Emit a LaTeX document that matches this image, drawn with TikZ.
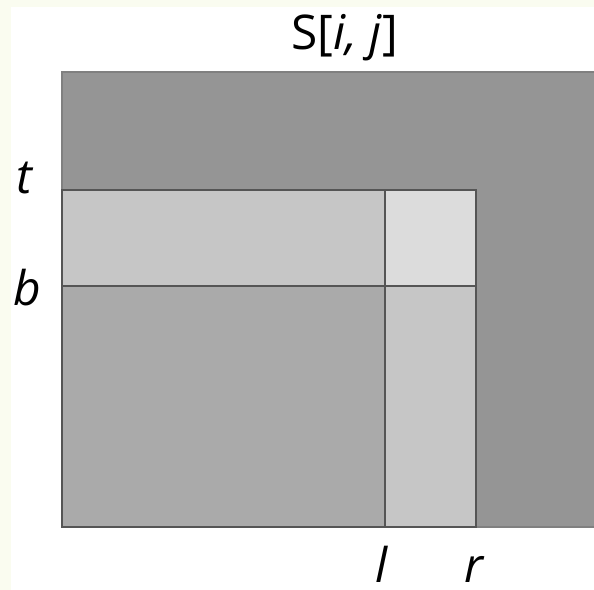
\documentclass[tikz,border=0pt]{standalone}
\usepackage{fontspec}
\setmainfont{Open Sans}
\usepackage{tikz}
\usetikzlibrary{positioning}
\definecolor{cellouter}{RGB}{149, 149, 149}
\definecolor{cellbelow}{RGB}{170, 170, 170}
\definecolor{cellstrip}{RGB}{198, 198, 198}
\definecolor{cellpick}{RGB}{220, 220, 220}
\definecolor{gridline}{RGB}{85, 85, 85}
\definecolor{paperedge}{RGB}{250, 252, 240}

\begin{document}
\begin{tikzpicture}[
    x=1bp, y=-1bp,
    label text/.style={inner sep=0pt, anchor=base, font=\fontsize{48}{58}\selectfont},
    cell edge/.style={gridline, line width=1.5bp}
]
    \useasboundingbox (0,0) rectangle (594,590);
    \clip (0,0) rectangle (594,590);
    % faint paper edge
    \fill[paperedge] (0,0) rectangle (594,7);
    \fill[paperedge] (0,0) rectangle (11,590);

    % whole table S
    \fill[cellouter] (62,72) rectangle (600,527);
    \draw[cell edge, gridline!75] (600,72) -- (62,72) -- (62,527) -- (600,527);

    % rows above b, columns left of r
    \fill[cellbelow] (62,190) rectangle (476,527);
    \fill[cellstrip] (62,190) rectangle (476,286);
    \fill[cellstrip] (385,190) rectangle (476,527);
    \fill[cellpick] (385,190) rectangle (476,286);

    % boundaries
    \draw[cell edge] (62,190) rectangle (476,527);
    \draw[cell edge] (62,286) -- (476,286);
    \draw[cell edge] (385,190) -- (385,527);

    % labels
    \node[label text] (title) at (345,50) {S[\textit{i, j}]};
    \node[label text] (top) at (25,193) {\textit{t}};
    \node[label text] (bottom) at (27,305) {\textit{b}};
    \node[label text] (left) at (382,582) {\textit{l}};
    \node[label text] (right) at (475,582) {\textit{r}};
\end{tikzpicture}
\end{document}
